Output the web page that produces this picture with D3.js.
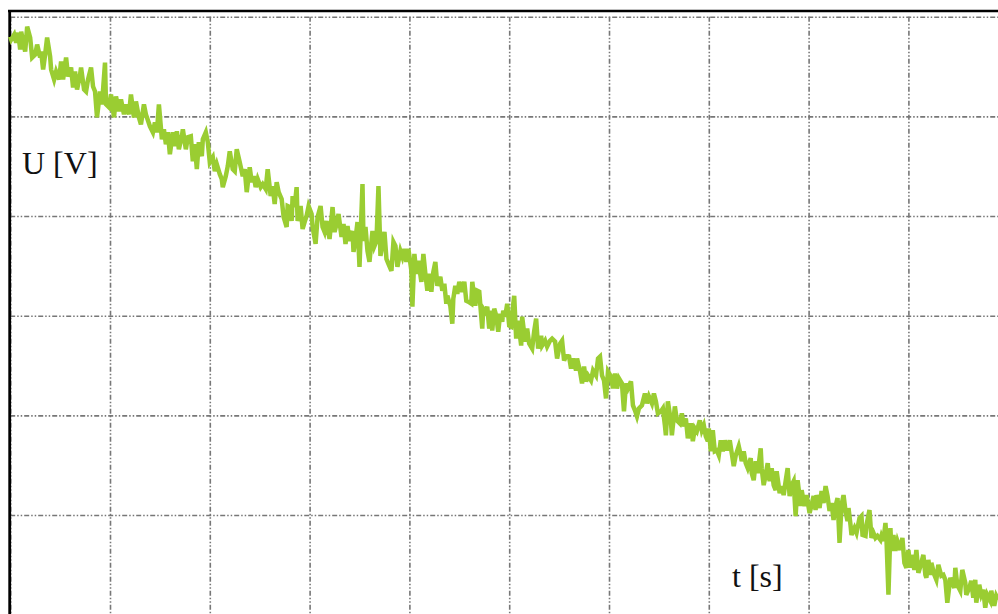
<!DOCTYPE html>
<html>
<head>
<meta charset="utf-8">
<script src="https://cdn.jsdelivr.net/npm/d3@7"></script>
<style>
  html, body { margin: 0; padding: 0; background: #fff; }
  svg { display: block; }
  .grid line { stroke: #777; stroke-width: 1.6; stroke-dasharray: 5,2,1.5,2,1.5,2; }
  .grid .domain { display: none; }
  .label { font-family: "Liberation Serif", "Times New Roman", serif; font-size: 32px; fill: #111; }
</style>
</head>
<body>
<svg id="chart" width="998" height="614"></svg>
<script>
// grid divisions (no tick labels are printed on the chart)
var timeTicks = [0, 1, 2, 3, 4, 5, 6, 7, 8, 9];
var voltTicks = [1, 2, 3, 4, 5, 6];

var trace = [
  [0.00,5.80],[0.01,5.77],[0.04,5.82],[0.06,5.74],[0.08,5.84],[0.10,5.67],[0.11,5.85],[0.13,5.75],[0.15,5.65],[0.17,5.90],
  [0.20,5.79],[0.22,5.59],[0.25,5.62],[0.27,5.72],[0.30,5.59],[0.31,5.65],[0.33,5.47],[0.35,5.62],[0.37,5.79],[0.40,5.60],
  [0.41,5.47],[0.44,5.37],[0.46,5.45],[0.49,5.37],[0.51,5.55],[0.53,5.37],[0.56,5.59],[0.58,5.40],[0.61,5.49],[0.63,5.29],
  [0.65,5.45],[0.67,5.27],[0.70,5.42],[0.71,5.49],[0.74,5.27],[0.76,5.25],[0.78,5.37],[0.81,5.49],[0.83,5.30],[0.85,5.25],
  [0.87,4.99],[0.90,5.25],[0.92,5.12],[0.95,5.54],[0.96,5.12],[0.99,5.09],
  [1.01,5.22],[1.04,4.99],[1.06,5.20],[1.09,5.05],[1.11,5.17],[1.14,5.02],[1.16,5.12],[1.19,5.02],[1.21,5.22],[1.24,4.99],
  [1.26,5.15],[1.29,4.99],[1.31,4.92],[1.34,5.12],[1.36,5.02],[1.40,4.90],[1.43,4.84],[1.45,4.94],[1.47,4.84],[1.49,5.12],
  [1.52,4.77],[1.54,4.87],[1.56,4.72],[1.58,4.84],[1.60,4.62],[1.63,4.84],[1.65,4.70],[1.67,4.85],[1.69,4.67],[1.72,4.80],
  [1.73,4.87],[1.76,4.67],[1.78,4.79],[1.81,4.80],[1.83,4.55],[1.85,4.72],[1.87,4.47],[1.89,4.74],[1.92,4.60],[1.93,4.77],
  [1.96,4.84],[1.98,4.74],
  [2.00,4.54],[2.03,4.59],[2.05,4.45],[2.07,4.52],[2.10,4.42],[2.12,4.37],[2.13,4.29],[2.16,4.40],[2.18,4.50],[2.20,4.65],
  [2.23,4.47],[2.25,4.45],[2.27,4.67],[2.30,4.54],[2.33,4.40],[2.35,4.47],[2.37,4.24],[2.40,4.49],[2.42,4.34],[2.44,4.40],
  [2.46,4.29],[2.48,4.37],[2.51,4.29],[2.53,4.32],[2.56,4.27],[2.58,4.47],[2.61,4.20],[2.63,4.30],[2.65,4.12],[2.67,4.34],
  [2.69,4.24],[2.72,4.17],[2.74,3.99],[2.77,3.89],[2.78,4.10],[2.80,4.09],[2.82,3.95],[2.83,4.20],[2.85,4.09],[2.87,4.29],
  [2.88,3.95],[2.91,4.10],[2.93,3.87],[2.95,3.94],[2.97,4.00],[2.99,4.10],
  [3.02,4.02],[3.03,3.89],[3.06,3.72],[3.08,3.99],[3.11,4.10],[3.13,3.89],[3.15,3.84],[3.17,3.95],[3.20,3.77],[3.23,4.09],
  [3.25,3.84],[3.27,3.92],[3.29,4.02],[3.32,3.79],[3.34,3.92],[3.36,3.72],[3.38,3.90],[3.40,3.75],[3.43,3.85],[3.44,3.64],
  [3.46,3.77],[3.48,3.94],[3.50,3.49],[3.53,4.32],[3.54,3.75],[3.56,3.89],[3.58,3.65],[3.60,3.54],[3.63,3.85],[3.65,3.70],
  [3.67,3.75],[3.69,4.30],[3.71,3.60],[3.73,3.72],[3.75,3.84],[3.77,3.57],[3.79,3.52],[3.82,3.45],[3.84,3.74],[3.86,3.70],
  [3.88,3.49],[3.91,3.65],[3.93,3.59],[3.95,3.67],[3.97,3.54],[3.99,3.67],
  [4.02,3.45],[4.03,3.09],[4.05,3.62],[4.07,3.42],[4.09,3.55],[4.12,3.34],[4.14,3.62],[4.16,3.42],[4.18,3.25],[4.20,3.42],
  [4.22,3.24],[4.24,3.44],[4.26,3.54],[4.28,3.30],[4.31,3.39],[4.33,3.25],[4.35,3.32],[4.37,3.12],[4.38,3.20],[4.41,3.10],
  [4.43,2.92],[4.44,3.17],[4.46,3.30],[4.48,3.22],[4.50,3.34],[4.53,3.24],[4.55,3.34],[4.57,3.15],[4.59,3.14],[4.62,3.12],
  [4.63,3.34],[4.66,3.10],[4.68,3.25],[4.70,3.24],[4.73,2.87],[4.74,3.07],[4.76,3.04],[4.78,3.09],[4.80,2.87],[4.82,3.05],
  [4.83,2.85],[4.85,3.07],[4.87,3.00],[4.89,2.84],[4.91,3.02],[4.93,2.94],[4.94,3.05],[4.96,2.99],[4.98,3.12],
  [5.00,2.90],[5.02,2.89],[5.03,3.02],[5.05,3.20],[5.07,2.77],[5.09,2.95],[5.12,2.70],[5.13,2.99],[5.16,2.74],[5.18,2.87],
  [5.20,2.72],[5.23,2.67],[5.25,2.84],[5.27,2.97],[5.29,2.67],[5.32,2.80],[5.33,2.70],[5.36,2.75],[5.38,2.69],[5.41,2.75],
  [5.43,2.77],[5.46,2.74],[5.48,2.57],[5.51,2.72],[5.53,2.75],[5.55,2.55],[5.57,2.60],[5.60,2.59],[5.62,2.47],[5.64,2.57],
  [5.67,2.45],[5.68,2.57],[5.71,2.44],[5.73,2.32],[5.75,2.49],[5.77,2.34],[5.79,2.40],[5.82,2.35],[5.84,2.45],[5.87,2.40],
  [5.89,2.57],[5.91,2.59],[5.93,2.40],[5.95,2.35],[5.97,2.17],[5.99,2.44],
  [6.02,2.39],[6.04,2.27],[6.06,2.42],[6.08,2.27],[6.10,2.37],[6.13,2.32],[6.15,2.04],[6.17,2.32],[6.19,2.27],[6.22,2.34],
  [6.24,2.10],[6.26,2.05],[6.28,1.99],[6.30,2.07],[6.33,2.10],[6.34,2.14],[6.36,2.22],[6.38,2.12],[6.40,2.19],[6.43,2.12],
  [6.45,2.22],[6.47,2.14],[6.49,2.02],[6.52,2.04],[6.54,2.07],[6.56,1.90],[6.57,1.80],[6.59,2.14],[6.62,1.94],[6.63,1.80],
  [6.66,2.09],[6.68,1.95],[6.71,1.92],[6.73,2.02],[6.75,1.89],[6.77,1.97],[6.79,1.77],[6.82,1.92],[6.84,1.74],[6.86,1.87],
  [6.88,1.84],[6.91,1.95],[6.93,1.85],[6.95,1.90],[6.97,1.79],[6.99,1.74],
  [7.00,1.87],[7.02,1.64],[7.04,1.85],[7.06,1.64],[7.08,1.65],[7.10,1.60],[7.12,1.75],[7.14,1.64],[7.16,1.75],[7.18,1.65],
  [7.21,1.75],[7.23,1.62],[7.25,1.49],[7.27,1.60],[7.30,1.69],[7.32,1.60],[7.33,1.54],[7.35,1.64],[7.37,1.52],[7.39,1.47],
  [7.42,1.57],[7.43,1.42],[7.45,1.35],[7.47,1.54],[7.49,1.42],[7.52,1.67],[7.53,1.47],[7.55,1.30],[7.57,1.40],[7.59,1.52],
  [7.61,1.34],[7.63,1.47],[7.65,1.30],[7.67,1.25],[7.68,1.44],[7.71,1.22],[7.73,1.29],[7.75,1.20],[7.77,1.34],[7.79,1.47],
  [7.81,1.19],[7.83,1.30],[7.85,1.34],[7.87,0.99],[7.89,1.35],[7.92,1.09],[7.93,1.25],[7.96,1.09],[7.98,1.20],
  [8.01,1.02],[8.03,1.10],[8.05,1.19],[8.07,1.05],[8.08,1.20],[8.11,1.07],[8.13,1.24],[8.15,1.12],[8.17,1.29],[8.19,1.19],
  [8.21,1.04],[8.23,1.12],[8.25,0.95],[8.27,1.09],[8.29,1.17],[8.31,0.72],[8.33,1.10],[8.35,1.20],[8.37,1.04],[8.39,0.94],
  [8.40,1.07],[8.42,0.90],[8.43,0.80],[8.46,0.87],[8.48,0.82],[8.51,0.97],[8.53,0.99],[8.54,0.80],[8.57,0.79],[8.58,0.90],
  [8.61,1.05],[8.63,0.77],[8.65,0.82],[8.67,0.77],[8.69,0.79],[8.72,0.75],[8.73,0.79],[8.75,0.74],[8.77,0.92],[8.78,0.77],
  [8.80,0.20],[8.82,0.87],[8.83,0.64],[8.85,0.80],[8.87,0.64],[8.89,0.74],[8.92,0.65],[8.94,0.77],[8.96,0.52],[8.98,0.47],
  [9.00,0.65],[9.02,0.47],[9.03,0.60],[9.06,0.45],[9.08,0.65],[9.10,0.42],[9.13,0.52],[9.15,0.60],[9.17,0.40],[9.18,0.37],
  [9.20,0.55],[9.22,0.40],[9.23,0.52],[9.26,0.40],[9.28,0.35],[9.30,0.50],[9.33,0.39],[9.35,0.40],[9.37,0.35],[9.39,0.12],
  [9.42,0.37],[9.43,0.34],[9.46,0.27],[9.47,0.47],[9.49,0.30],[9.52,0.24],[9.54,0.45],[9.57,0.32],[9.58,0.20],[9.61,0.27],
  [9.63,0.34],[9.65,0.17],[9.67,0.35],[9.68,0.12],[9.71,0.30],[9.73,0.20],[9.75,0.25],[9.77,0.07],[9.79,0.20],[9.82,0.14],
  [9.83,0.24],[9.86,0.09],[9.88,0.19],[9.90,0.15]
];

var svg = d3.select("#chart");
var width = 998, height = 614;

// one grid division is ~99.8 px wide and ~99.7 px high
var x = d3.scaleLinear().domain([0, 10]).range([10.2, 1008.2]);
var y = d3.scaleLinear().domain([0, 6]).range([614.7, 16.7]);

// vertical grid lines, hanging down from the top division
svg.append("g")
  .attr("class", "grid")
  .attr("transform", "translate(0," + y(6) + ")")
  .call(d3.axisTop(x).tickValues(timeTicks).tickSize(-(height - y(6))).tickFormat(""));

// horizontal grid lines
svg.append("g")
  .attr("class", "grid")
  .attr("transform", "translate(" + x(0) + ",0)")
  .call(d3.axisLeft(y).tickValues(voltTicks).tickSize(-(width - x(0))).tickFormat(""));

// black frame (top and left edges, the rest is cropped)
svg.append("line")
  .attr("x1", 8).attr("x2", width).attr("y1", 11).attr("y2", 11)
  .attr("stroke", "#000").attr("stroke-width", 2.4);
svg.append("line")
  .attr("x1", 9.7).attr("x2", 9.7).attr("y1", 10).attr("y2", height)
  .attr("stroke", "#000").attr("stroke-width", 2.8);

var line = d3.line()
  .x(function (d) { return x(d[0]); })
  .y(function (d) { return y(d[1]); });

svg.append("path")
  .datum(trace)
  .attr("d", line)
  .attr("fill", "none")
  .attr("stroke", "#9acd32")
  .attr("stroke-width", 4.5);

svg.append("text").attr("class", "label").attr("x", 22).attr("y", 174).text("U [V]");
svg.append("text").attr("class", "label").attr("x", 732).attr("y", 587).text("t [s]");
</script>
</body>
</html>
